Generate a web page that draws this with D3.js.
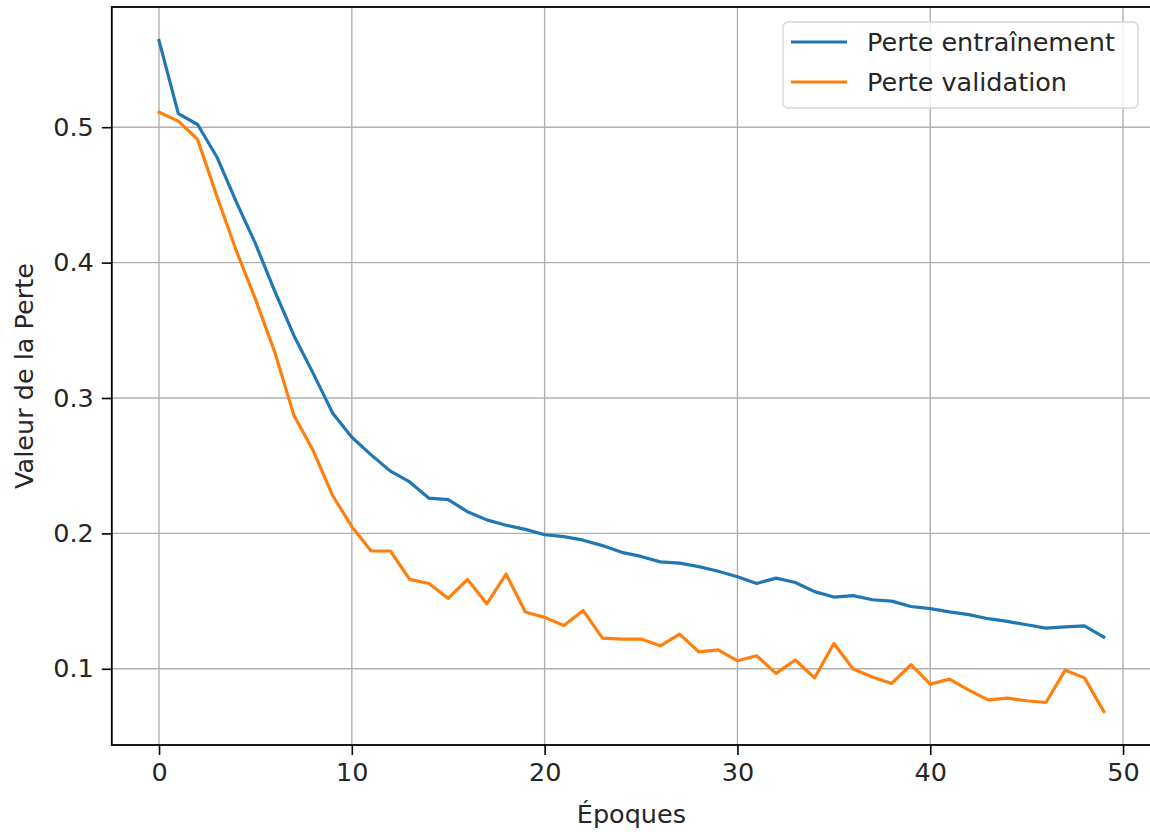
<!DOCTYPE html>
<html>
<head>
<meta charset="utf-8">
<script src="https://cdn.jsdelivr.net/npm/d3@7"></script>
<style>
  body { margin: 0; background: #fff; }
  svg { display: block; font-family: "DejaVu Sans", sans-serif; }
</style>
</head>
<body>
<script>
// loss values, one per epoch (0..49)
const trainLoss = [
  0.564, 0.510, 0.502, 0.478, 0.445, 0.414, 0.379, 0.346, 0.318, 0.289,
  0.271, 0.258, 0.246, 0.238, 0.226, 0.225, 0.216, 0.210, 0.206, 0.203,
  0.199, 0.1976, 0.195, 0.191, 0.186, 0.183, 0.179, 0.178, 0.1755, 0.172,
  0.168, 0.163, 0.167, 0.1637, 0.157, 0.153, 0.154, 0.151, 0.150, 0.146,
  0.1445, 0.142, 0.140, 0.137, 0.135, 0.1325, 0.130, 0.131, 0.1317, 0.1235
];
const valLoss = [
  0.511, 0.5045, 0.491, 0.449, 0.409, 0.373, 0.334, 0.287, 0.261, 0.228,
  0.205, 0.187, 0.187, 0.166, 0.163, 0.152, 0.166, 0.148, 0.170, 0.142,
  0.138, 0.132, 0.143, 0.1226, 0.1219, 0.122, 0.117, 0.1256, 0.1125, 0.114,
  0.1059, 0.1096, 0.0966, 0.1065, 0.0933, 0.1187, 0.0998, 0.094, 0.0892, 0.103,
  0.0887, 0.0924, 0.0843, 0.077, 0.0784, 0.0764, 0.0751, 0.099, 0.0933, 0.0685
];
const epochs = d3.range(trainLoss.length);
const seriesNames = ["Perte entraînement", "Perte validation"];
const seriesColors = ["#1f77b4", "#ff7f0e"];
const xTicks = [0, 10, 20, 30, 40, 50];
const yTicks = [0.1, 0.2, 0.3, 0.4, 0.5];
const xLabel = "Époques";
const yLabel = "Valeur de la Perte";

const W = 1150, H = 832;
const plotL = 111.8, plotT = 7, plotR = 1151, plotB = 745;
const fontSize = 25.5;

const svg = d3.select("body").append("svg")
  .attr("width", W)
  .attr("height", H);

// matplotlib style 5% padding around the data
function padded(ext) {
  const d = (ext[1] - ext[0]) * 0.05;
  return [ext[0] - d, ext[1] + d];
}
const allY = trainLoss.concat(valLoss);

const x = d3.scaleLinear()
  .domain(padded(d3.extent(epochs)))
  .range([plotL, plotR]);
const y = d3.scaleLinear()
  .domain(padded(d3.extent(allY)))
  .range([plotB, plotT]);

// grid
const grid = svg.append("g");
grid.selectAll(".gx").data(xTicks).enter().append("line")
  .attr("x1", d => x(d)).attr("x2", d => x(d))
  .attr("y1", plotT).attr("y2", plotB)
  .attr("stroke", "#b0b0b0").attr("stroke-width", 1.4);
grid.selectAll(".gy").data(yTicks).enter().append("line")
  .attr("y1", d => y(d)).attr("y2", d => y(d))
  .attr("x1", plotL).attr("x2", plotR)
  .attr("stroke", "#b0b0b0").attr("stroke-width", 1.4);

// lines
const line = d3.line()
  .x((d, i) => x(i))
  .y(d => y(d));

[trainLoss, valLoss].forEach((s, k) => {
  svg.append("path")
    .datum(s)
    .attr("d", line)
    .attr("fill", "none")
    .attr("stroke", seriesColors[k])
    .attr("stroke-width", 3.2)
    .attr("stroke-linejoin", "round")
    .attr("stroke-linecap", "square");
});

// axes
const xAxis = svg.append("g")
  .attr("transform", `translate(0,${plotB})`)
  .call(d3.axisBottom(x).tickValues(xTicks).tickSize(10).tickPadding(8).tickFormat(d3.format("d")));
const yAxis = svg.append("g")
  .attr("transform", `translate(${plotL},0)`)
  .call(d3.axisLeft(y).tickValues(yTicks).tickSize(10).tickPadding(8).tickFormat(d3.format(".1f")));

[xAxis, yAxis].forEach(a => {
  a.select(".domain").remove();
  a.selectAll(".tick line").attr("stroke", "#000").attr("stroke-width", 1.6);
  a.selectAll(".tick text")
    .attr("fill", "#262626")
    .style("font-family", "DejaVu Sans")
    .style("font-size", fontSize + "px");
});

// frame
svg.append("rect")
  .attr("x", plotL).attr("y", plotT)
  .attr("width", plotR - plotL).attr("height", plotB - plotT)
  .attr("fill", "none")
  .attr("stroke", "#000")
  .attr("stroke-width", 1.8);

// axis labels
svg.append("text")
  .attr("x", (plotL + plotR) / 2).attr("y", 823)
  .attr("text-anchor", "middle")
  .attr("fill", "#262626")
  .style("font-size", fontSize + "px")
  .text(xLabel);
svg.append("text")
  .attr("transform", `translate(33,${(plotT + plotB) / 2}) rotate(-90)`)
  .attr("text-anchor", "middle")
  .attr("fill", "#262626")
  .style("font-size", fontSize + "px")
  .text(yLabel);

// legend
const lg = svg.append("g").attr("transform", "translate(783,22)");
lg.append("rect")
  .attr("width", 355).attr("height", 86)
  .attr("rx", 5)
  .attr("fill", "#fff").attr("fill-opacity", 0.8)
  .attr("stroke", "#d6d6d6").attr("stroke-width", 1.4);
seriesNames.forEach((name, k) => {
  const yy = 20 + k * 40;
  lg.append("line")
    .attr("x1", 8).attr("x2", 64)
    .attr("y1", yy).attr("y2", yy)
    .attr("stroke", seriesColors[k]).attr("stroke-width", 3.2);
  lg.append("text")
    .attr("x", 84).attr("y", yy + 9)
    .attr("fill", "#262626")
    .style("font-size", fontSize + "px")
    .text(name);
});
</script>
</body>
</html>
